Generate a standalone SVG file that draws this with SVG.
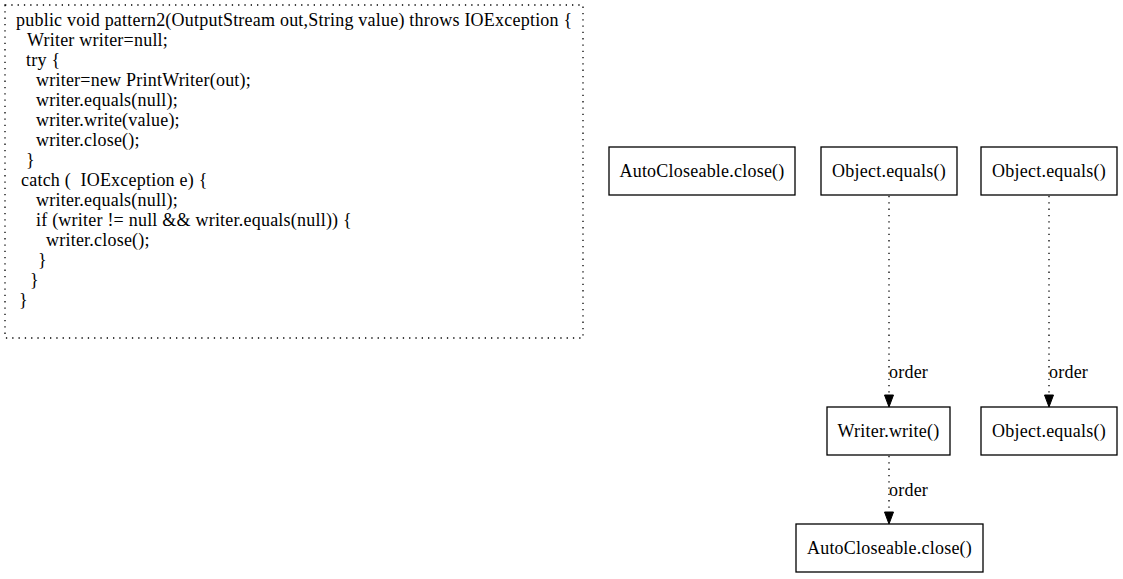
<svg xmlns="http://www.w3.org/2000/svg" width="1123" height="579" viewBox="0 0 1123 579">
<style>
text{font-family:"Liberation Serif","Times New Roman",serif;font-size:18px;fill:#000;letter-spacing:0.22px}
.node rect{fill:#fff;stroke:#000;stroke-width:1.3}
.node text{text-anchor:middle}
.edge line{stroke:#000;stroke-width:1.3;stroke-dasharray:1.3,5}
.edge polygon{fill:#000;stroke:#000;stroke-width:1}
</style>
<rect width="1123" height="579" fill="#fff"/>
<g id="code">
<rect x="5" y="5" width="578" height="333" fill="none" stroke="#000" stroke-width="1.3" stroke-dasharray="1.3,5"/>
<text x="16" y="26">public void pattern2(OutputStream out,String value) throws IOException {</text>
<text x="27" y="46">Writer writer=null;</text>
<text x="26" y="66">try {</text>
<text x="36" y="86">writer=new PrintWriter(out);</text>
<text x="36" y="106">writer.equals(null);</text>
<text x="36" y="126">writer.write(value);</text>
<text x="36" y="146">writer.close();</text>
<text x="26" y="166">}</text>
<text x="21" y="186">catch (&#160; IOException e) {</text>
<text x="36" y="206">writer.equals(null);</text>
<text x="36" y="226">if (writer != null &amp;&amp; writer.equals(null)) {</text>
<text x="46" y="246">writer.close();</text>
<text x="38" y="266">}</text>
<text x="30" y="286">}</text>
<text x="19" y="306">}</text>
</g>
<g id="n1" class="node"><rect x="609" y="147" width="186" height="48"/><text x="702" y="177">AutoCloseable.close()</text></g>
<g id="n2" class="node"><rect x="821" y="147" width="136" height="48"/><text x="889" y="177">Object.equals()</text></g>
<g id="n3" class="node"><rect x="981" y="147" width="136" height="48"/><text x="1049" y="177">Object.equals()</text></g>
<g id="n4" class="node"><rect x="827" y="407" width="123" height="48"/><text x="888.5" y="437">Writer.write()</text></g>
<g id="n5" class="node"><rect x="981" y="407" width="136" height="48"/><text x="1049" y="437">Object.equals()</text></g>
<g id="n6" class="node"><rect x="796" y="524" width="187" height="48"/><text x="889.5" y="554">AutoCloseable.close()</text></g>
<g id="connectors">
<g class="edge"><line x1="889" y1="196" x2="889" y2="395"/><polygon points="884.5,395 893.5,395 889,407"/><text x="889" y="378">order</text></g>
<g class="edge"><line x1="1049" y1="196" x2="1049" y2="395"/><polygon points="1044.5,395 1053.5,395 1049,407"/><text x="1049" y="378">order</text></g>
<g class="edge"><line x1="889" y1="456" x2="889" y2="512"/><polygon points="884.5,512 893.5,512 889,524"/><text x="889" y="496">order</text></g>
</g>
</svg>
